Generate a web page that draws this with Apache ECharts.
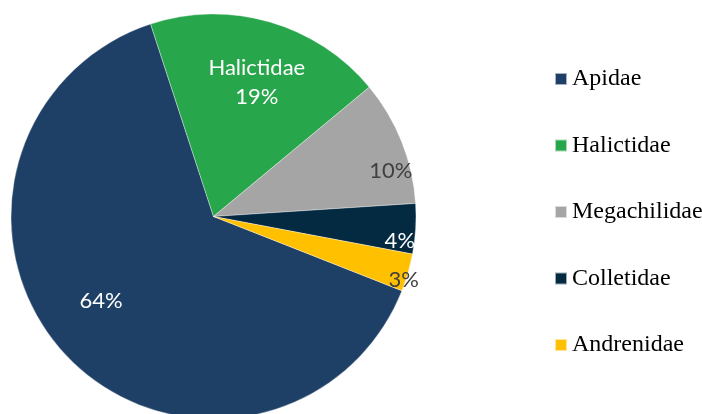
<!DOCTYPE html>
<html>
<head>
<meta charset="utf-8">
<script src="https://cdn.jsdelivr.net/npm/echarts@6/dist/echarts.min.js"></script>
<style>
  html, body { margin: 0; padding: 0; background: #fff; }
  #chart { width: 702px; height: 414px; }
</style>
</head>
<body>
<div id="chart"></div>
<script>
// Bee families and their share of collected specimens (%)
const families = ['Apidae', 'Halictidae', 'Megachilidae', 'Colletidae', 'Andrenidae'];
const shares = [64, 19, 10, 4, 3];
const sliceColors = ['#1E3F66', '#28A64B', '#A5A5A5', '#042A42', '#FFC000'];
const labelColors = ['#FFFFFF', '#FFFFFF', '#404040', '#FFFFFF', '#404040'];

// Pie geometry
const CX = 213.5, CY = 216.5, R = 202.5;
// Where each label sits: [degrees clockwise from 12 o'clock, fraction of radius]
const labelSpots = [[233, 0.695], [17.9, 0.696], [75.6, 0.904], [97.5, 0.928], [108.4, 0.99]];

const chart = echarts.init(document.getElementById('chart'), null, { renderer: 'canvas' });

chart.setOption({
  animation: false,
  backgroundColor: '#fff',
  legend: {
    orient: 'vertical',
    left: 554,
    top: 67,
    padding: 0,
    icon: 'rect',
    itemWidth: 12,
    itemHeight: 12,
    itemGap: 42.5,
    data: families,
    textStyle: {
      fontFamily: 'Liberation Serif',
      fontSize: 24,
      lineHeight: 24,
      color: '#000'
    }
  },
  series: [{
    type: 'pie',
    center: [CX, CY],
    radius: [0, R],
    startAngle: -21.5,
    clockwise: true,
    data: families.map((name, i) => ({
      name,
      value: shares[i],
      itemStyle: { color: sliceColors[i] },
      label: {
        color: labelColors[i],
        formatter: i === 1 ? (p => p.name + '\n' + Math.round(p.percent) + '%')
                           : (p => Math.round(p.percent) + '%')
      }
    })),
    itemStyle: { borderColor: 'rgba(255,255,255,0.6)', borderWidth: 0.6 },
    label: {
      show: true,
      position: 'inside',
      fontFamily: 'Lato',
      fontSize: 22,
      lineHeight: 29
    },
    labelLine: { show: false },
    labelLayout: (p) => {
      const [deg, frac] = labelSpots[p.dataIndex];
      const a = deg * Math.PI / 180;
      return {
        x: CX + frac * R * Math.sin(a),
        y: CY - frac * R * Math.cos(a),
        align: 'center',
        verticalAlign: 'middle'
      };
    },
    emphasis: { disabled: true }
  }]
});
</script>
</body>
</html>
